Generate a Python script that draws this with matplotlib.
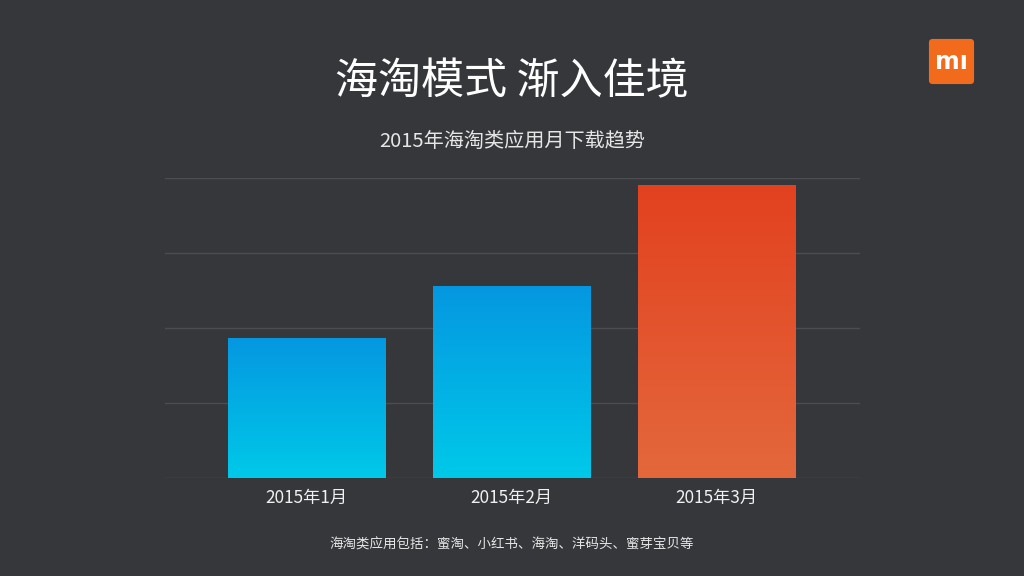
import matplotlib.pyplot as plt
import numpy as np
from matplotlib.patches import FancyBboxPatch
from matplotlib.colors import LinearSegmentedColormap

plt.rcParams['font.family'] = ['Noto Sans CJK SC', 'DejaVu Sans']

# data
months = ['2015年1月', '2015年2月', '2015年3月']
downloads = [1.87, 2.56, 3.91]
bar_colors = [('#00c9e9', '#0597e0'), ('#00c9e9', '#0597e0'), ('#e4683c', '#e2411f')]

bg = '#35373b'
fig = plt.figure(figsize=(10.24, 5.76), dpi=100, facecolor=bg)

# title and notes
fig.text(0.5, 0.857, '海淘模式 渐入佳境', color='white', fontsize=31, fontweight='light',
         ha='center', va='center')
fig.text(0.5, 0.755, '2015年海淘类应用月下载趋势', color='#e6e6e6', fontsize=14.5, fontweight='light',
         ha='center', va='center')
fig.text(0.5, 0.055, '海淘类应用包括：蜜淘、小红书、海淘、洋码头、蜜芽宝贝等', color='#e6e6e6', fontsize=9.7,
         fontweight='light', ha='center', va='center')

# logo
axl = fig.add_axes([928 / 1024, 1 - 85 / 576, 47 / 1024, 47 / 576])
axl.set_xlim(0, 1)
axl.set_ylim(0, 1)
axl.axis('off')
axl.add_patch(FancyBboxPatch((0.02, 0.02), 0.96, 0.96, boxstyle='round,pad=0,rounding_size=0.08',
                             facecolor='#f26b1d', edgecolor='none'))
axl.text(0.5, 0.48, 'mı', color='white', fontsize=17, fontweight='bold', ha='center', va='center',
         family='DejaVu Sans')

# chart
ax = fig.add_axes([165 / 1024, 1 - 478 / 576, 695 / 1024, 300 / 576])
ax.set_facecolor(bg)
for s in ax.spines.values():
    s.set_visible(False)
ax.set_yticks([0, 1, 2, 3, 4])
ax.set_yticklabels([])
ax.tick_params(axis='y', length=0)
ax.tick_params(axis='x', length=0, colors='#f0f0f0', labelsize=12.4, pad=8)
ax.grid(axis='y', color='#4b4d51', linewidth=1)
ax.set_axisbelow(True)

x = np.arange(len(months))
bars = ax.bar(x, downloads, width=0.766, color='none')
ax.set_xticks(x)
ax.set_xticklabels(months, fontweight='light')

grad = np.linspace(0, 1, 256).reshape(-1, 1)
for b, (c0, c1) in zip(bars, bar_colors):
    cmap = LinearSegmentedColormap.from_list('g', [c0, c1])
    x0, w, h = b.get_x(), b.get_width(), b.get_height()
    im = ax.imshow(grad, cmap=cmap, extent=[x0, x0 + w, 0, h], origin='lower',
                   aspect='auto', zorder=3)
    im.set_clip_path(b)

ax.set_xlim(-0.69, 2.70)
ax.set_ylim(0, 4)

fig.savefig('out.png', dpi=100, facecolor=bg)
